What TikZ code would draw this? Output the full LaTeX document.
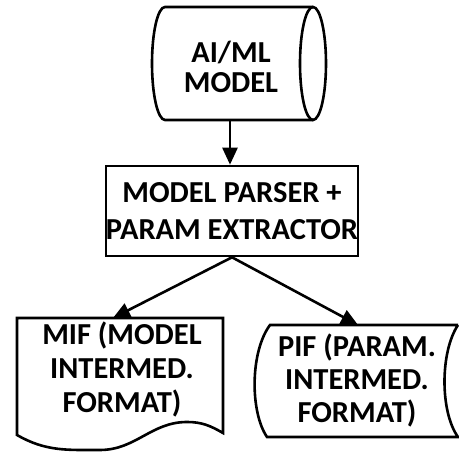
\documentclass[tikz,border=0pt]{standalone}
\usepackage{fontspec}
\setmainfont{Carlito}
\usetikzlibrary{arrows.meta}

\begin{document}
\begin{tikzpicture}[x=1pt,y=1pt,line width=2.6pt,
    lbl/.style={font=\bfseries\fontsize{30.5}{34}\selectfont,align=center,inner sep=0pt},
    flow/.style={-{Triangle[length=17pt,width=15pt]}}]
  \useasboundingbox (0,0) rectangle (459,452);

  % AI/ML model (stored data, cylinder)
  \draw (313,445) -- (165,445) arc[start angle=90,end angle=270,x radius=13,y radius=56.5] -- (313,332);
  \draw (313,388.5) ellipse[x radius=13,y radius=56.5];
  \node[lbl,font=\bfseries\fontsize{30.5}{30}\selectfont] (model) at (231,385) {AI/ML\\MODEL};
  \coordinate (modelout) at (230,332);

  % parser box
  \node[draw,lbl,minimum width=250pt,minimum height=90pt,font=\bfseries\fontsize{30.5}{37}\selectfont] (parser) at (232,241) {MODEL PARSER +\\PARAM EXTRACTOR};

  % MIF document
  \draw (17,17) -- (17,134) -- (223,134) -- (223,19)
    to[out=150,in=0] (187,30) to[out=180,in=0] (100,2) to[out=180,in=-30] cycle;
  \node[lbl] (mif) at (122,83) {MIF (MODEL\\INTERMED.\\FORMAT)};
  \coordinate (mifin) at (113,134);

  % PIF stored data
  \draw (458,127) -- (270,127) .. controls (250,100) and (250,40) .. (267,15)
    -- (458,15) .. controls (440,40) and (440,100) .. (458,127);
  \node[lbl,font=\bfseries\fontsize{30.5}{33}\selectfont] (pif) at (357,72) {PIF (PARAM.\\INTERMED.\\FORMAT)};
  \coordinate (pifin) at (358,127);

  % connectors
  \draw[flow] (modelout) -- (parser.north -| modelout);
  \draw[flow] (parser.south) -- (mifin);
  \draw[flow] (parser.south) -- (pifin);
\end{tikzpicture}
\end{document}
